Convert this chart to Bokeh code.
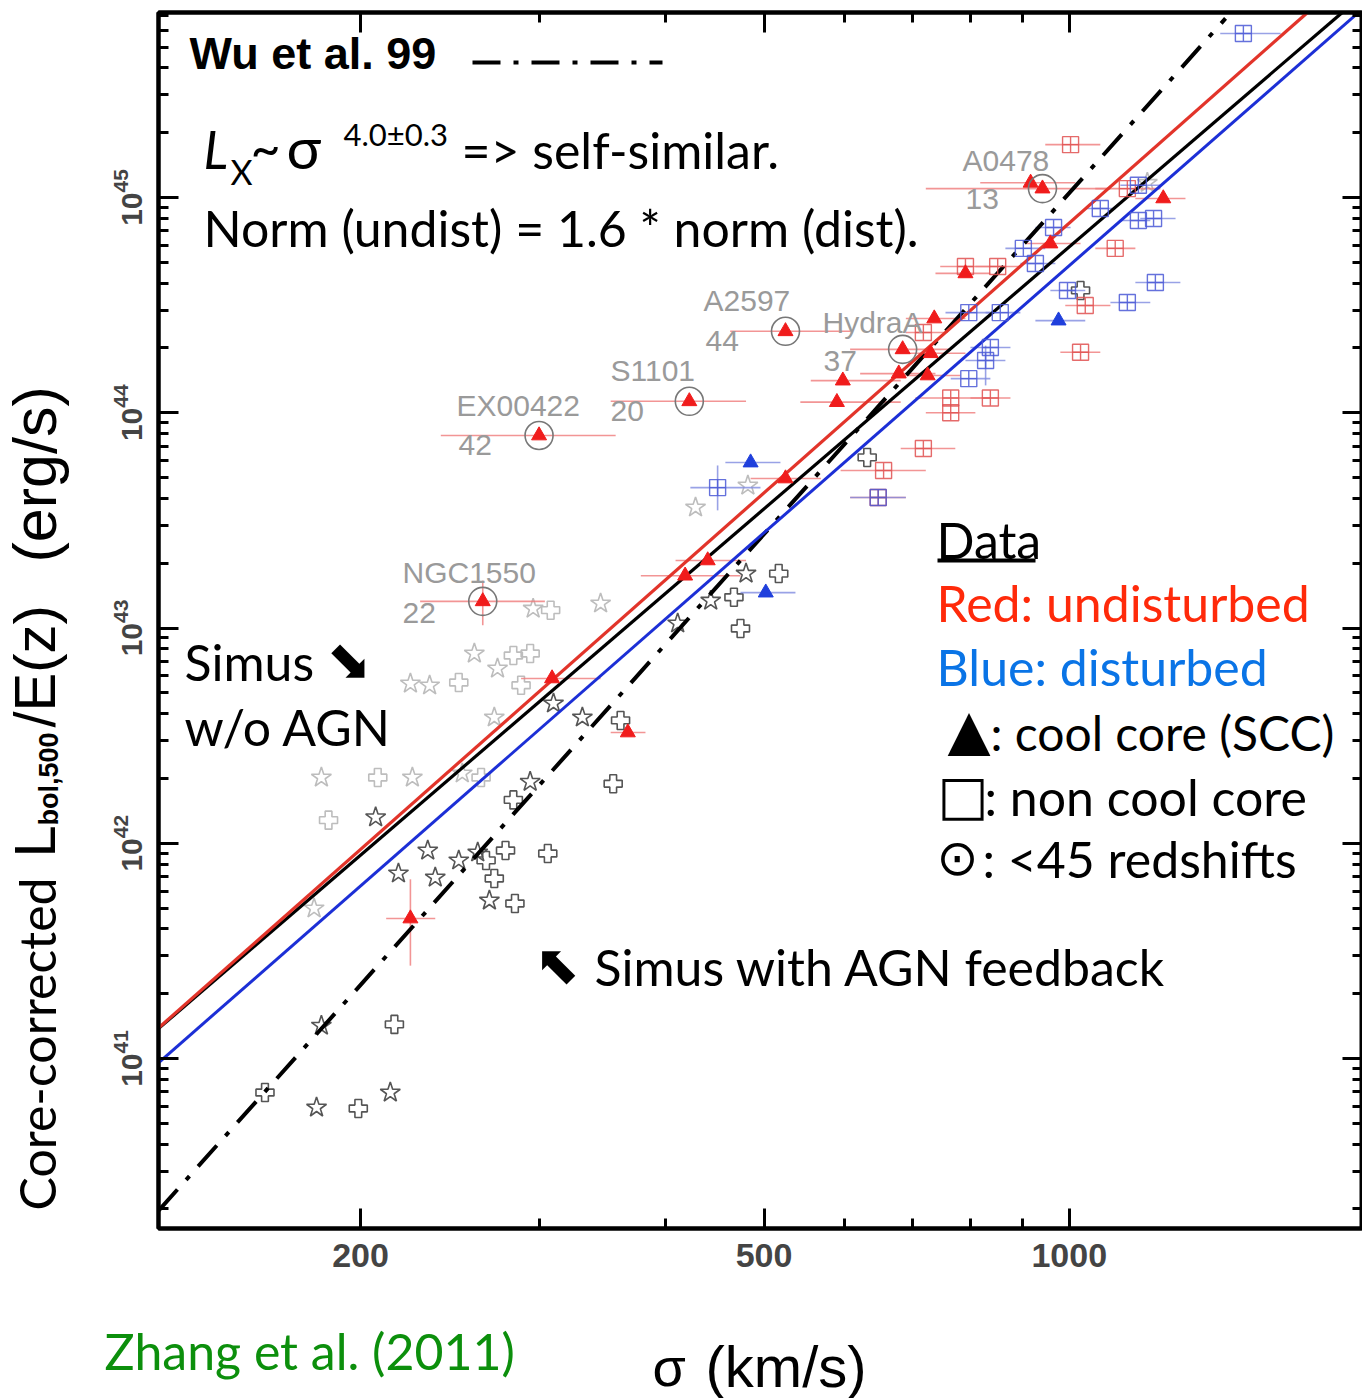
from math import log10, pi
from bokeh.plotting import figure
from bokeh.layouts import row, column
from bokeh.models import (Range1d, FixedTicker, LogAxis, PrintfTickFormatter,
                          LogTickFormatter, Label, BoxAnnotation)
from bokeh.embed import file_html
from bokeh.resources import INLINE

# ---------------- data ----------------
# Undisturbed, cool-core clusters (red triangles): sigma [km/s], L [erg/s], sigma error range
red_cc_sigma = [300, 422, 525, 685, 941, 916, 264, 736, 730, 598, 590, 679, 725, 790,
                958, 1238, 525, 418, 440, 309, 367, 224]
red_cc_L = [7.84e43, 1.13e44, 2.39e44, 1.97e44, 1.10e45, 1.17e45, 1.33e43, 2.74e44,
            1.89e44, 1.41e44, 1.12e44, 1.52e44, 1.49e44, 4.44e44, 6.11e44, 9.9e44,
            4.95e43, 1.75e43, 2.06e43, 5.83e42, 3.27e42, 4.47e41]
red_cc_sig_lo = [240, 353, 463, 608, 722, 817, 229, 690, 674, 556, 543, 622, 682, 738,
                 905, 1162, 485, 378, 409, 288, 353, 212]
red_cc_sig_hi = [357, 480, 608, 764, 1098, 1014, 304, 790, 790, 682, 682, 738, 781, 836,
                 1026, 1302, 569, 474, 480, 345, 382, 237]

# Undisturbed, non-cool-core clusters (red squares)
red_ncc_sigma = [1003, 1141, 1110, 790, 850, 1037, 1026, 764, 764, 836, 718, 656, 718, 648]
red_ncc_L = [1.76e45, 1.10e45, 5.80e44, 4.78e44, 4.78e44, 3.15e44, 1.91e44, 1.17e44,
             1.00e44, 1.17e44, 6.82e43, 5.39e43, 2.36e44, 4.04e43]
red_ncc_sig_lo = [947, 1061, 1061, 746, 808, 991, 980, 705, 722, 799, 682, 595, 690, 608]
red_ncc_sig_hi = [1073, 1230, 1162, 836, 895, 1098, 1073, 836, 808, 875, 772, 722, 755, 690]

# Disturbed, non-cool-core clusters (blue squares)
blue_ncc_sigma = [1485, 1170, 1073, 965, 901, 926, 1170, 1211, 1216, 1141, 996, 796, 855,
                  836, 827, 796, 450, 648]
blue_ncc_L = [5.78e45, 1.14e45, 8.89e44, 7.26e44, 5.80e44, 4.94e44, 7.82e44, 7.99e44,
              4.03e44, 3.25e44, 3.70e44, 2.92e44, 2.92e44, 2.01e44, 1.75e44, 1.44e44,
              4.49e43, 4.04e43]
blue_ncc_sig_lo = [1409, 1123, 1037, 926, 865, 895, 1123, 1175, 1162, 1098, 958, 755, 827,
                   799, 790, 764, 423, 608]
blue_ncc_sig_hi = [1616, 1230, 1110, 1003, 947, 969, 1202, 1273, 1287, 1202, 1037, 836, 895,
                   875, 865, 836, 496, 690]

# Disturbed, cool-core clusters (blue triangles)
blue_cc_sigma = [976, 485, 502]
blue_cc_L = [2.68e44, 5.87e43, 1.46e43]
blue_cc_sig_lo = [926, 458, 474]
blue_cc_sig_hi = [1037, 519, 537]

# vertical error bars
red_verr_sigma = [264, 224]
red_verr_lo = [1.03e43, 2.7e41]
red_verr_hi = [1.66e43, 6.8e41]
blue_verr_sigma = [450, 827]
blue_verr_lo = [3.52e43, 1.34e44]
blue_verr_hi = [5.69e43, 2.05e44]

# clusters with < 45 redshifts (circled, labelled)
named_sigma = [300, 422, 525, 685, 941, 264]
named_L = [7.84e43, 1.13e44, 2.39e44, 1.97e44, 1.10e45, 1.33e43]
named_names = ["EX00422", "S1101", "A2597", "HydraA", "A0478", "NGC1550"]
named_counts = ["42", "20", "44", "37", "13", "22"]

# Simulations with AGN feedback (dark grey)
agn_star_sigma = [181, 214, 183, 207, 233, 237, 218, 250, 261, 268, 294, 310, 331, 480, 411, 443]
agn_star_L = [5.92e40, 6.95e40, 1.42e41, 1.32e42, 9.25e41, 6.93e41, 7.24e41, 8.32e41,
              9.06e41, 5.42e41, 1.93e42, 4.46e42, 3.84e42, 1.79e43, 1.05e43, 1.34e43]
agn_plus_sigma = [199, 216, 161, 271, 278, 306, 284, 283, 266, 355, 361, 474, 467, 517, 632, 1026]
agn_plus_L = [5.86e40, 1.44e41, 6.95e40, 6.86e41, 9.25e41, 8.96e41, 5.25e41, 1.59e42,
              8.32e41, 1.89e42, 3.72e42, 9.95e42, 1.39e43, 1.79e43, 6.2e43, 3.7e44]

# Simulations without AGN (light grey)
noagn_star_sigma = [183, 225, 180, 224, 234, 259, 273, 296, 345, 271, 428, 482, 252, 1194]
noagn_star_L = [2.02e42, 2.02e42, 4.98e41, 5.52e42, 5.41e42, 7.61e42, 6.48e42, 1.23e43,
                1.30e43, 3.84e42, 3.63e43, 4.59e43, 2.11e42, 1.17e45]
noagn_plus_sigma = [186, 208, 250, 283, 294, 308, 288, 263]
noagn_plus_L = [1.28e42, 2.02e42, 5.58e42, 7.45e42, 7.61e42, 1.21e43, 5.42e42, 2.02e42]

# Fitted relations (end points)
fit_red_sigma = [126.5, 1718]
fit_red_L = [1.39e41, 7.24e45]
fit_black_sigma = [126.5, 1859]
fit_black_L = [1.38e41, 7.24e45]
fit_blue_sigma = [126.5, 1929]
fit_blue_L = [9.58e40, 7.24e45]
wu99_sigma = [126.5, 1426]
wu99_L = [1.97e40, 6.79e45]

x_ticks = [200, 500, 1000]
x_minor = [300, 400, 600, 700, 800, 900]
y_ticks = [1e41, 1e42, 1e43, 1e44, 1e45]
y_minor = [k * 10.0 ** n for n in range(40, 46) for k in range(2, 10)]


# ---------------- helpers for annotation placement (page pixels -> data) ----------------
def sx(px):
    return 10 ** (log10(200) + (px - 360) / 1014.0)


def sy(py):
    return 10 ** (45 + (197 - py) / 215.25)


CAL = "Lato, Open Sans, sans-serif"
HEL = "Liberation Sans, Arial, sans-serif"
SYM = "DejaVu Sans, sans-serif"

LEFT_W = 90
F_TOP, F_BOT = 12, 1228
MAIN_H = 1290

p = figure(x_axis_type="log", y_axis_type="log",
           x_range=Range1d(sx(158), sx(1362)), y_range=Range1d(sy(F_BOT), sy(F_TOP)),
           frame_width=1204, frame_height=F_BOT - F_TOP,
           min_border_left=158 - LEFT_W, min_border_right=0, min_border_top=F_TOP,
           min_border_bottom=MAIN_H - F_BOT,
           output_backend="svg", toolbar_location=None,
           background_fill_color="white", border_fill_color="white")
p.xgrid.visible = False
p.ygrid.visible = False
p.outline_line_color = "black"
p.outline_line_width = 4

xt = FixedTicker(ticks=x_ticks, minor_ticks=x_minor)
yt = FixedTicker(ticks=y_ticks, minor_ticks=y_minor)


def style_axis(ax, show_labels):
    ax.axis_line_width = 4
    ax.major_tick_line_width = 3
    ax.minor_tick_line_width = 3
    ax.major_tick_in = 20
    ax.major_tick_out = 0
    ax.minor_tick_in = 10
    ax.minor_tick_out = 0
    if not show_labels:
        ax.major_label_text_font_size = "0px"
        ax.major_label_standoff = 0


xa = p.xaxis[0]
xa.ticker = xt
xa.formatter = PrintfTickFormatter(format="%d")
style_axis(xa, True)
xa.major_label_text_font = HEL
xa.major_label_text_font_style = "bold"
xa.major_label_text_font_size = "34px"
xa.major_label_standoff = 15

ya = p.yaxis[0]
ya.ticker = yt
ya.formatter = LogTickFormatter()
style_axis(ya, True)
ya.major_label_text_font = HEL
ya.major_label_text_font_style = "bold"
ya.major_label_text_font_size = "30px"
ya.major_label_orientation = "vertical"
ya.major_label_standoff = 17

top = LogAxis(ticker=xt, formatter=PrintfTickFormatter(format=""))
style_axis(top, False)
p.add_layout(top, "above")
right = LogAxis(ticker=yt, formatter=PrintfTickFormatter(format=""))
style_axis(right, False)
p.add_layout(right, "right")

# ---------------- simulations ----------------
p.scatter(noagn_star_sigma, noagn_star_L, marker="star", size=21, fill_color=None,
          line_color="#bdbdbd", line_width=1.6)
p.scatter(noagn_plus_sigma, noagn_plus_L, marker="plus", size=18, fill_color=None,
          line_color="#bdbdbd", line_width=1.6)
p.scatter(agn_star_sigma, agn_star_L, marker="star", size=21, fill_color=None,
          line_color="#555555", line_width=1.6)
p.scatter(agn_plus_sigma, agn_plus_L, marker="plus", size=18, fill_color=None,
          line_color="#555555", line_width=1.6)

# ---------------- error bars ----------------
ERR = dict(line_width=1.6, line_alpha=0.8)
p.segment(red_cc_sig_lo, red_cc_L, red_cc_sig_hi, red_cc_L, line_color="#ef7b7b", **ERR)
p.segment(red_ncc_sig_lo, red_ncc_L, red_ncc_sig_hi, red_ncc_L, line_color="#ef7b7b", **ERR)
p.segment(blue_ncc_sig_lo, blue_ncc_L, blue_ncc_sig_hi, blue_ncc_L, line_color="#7f8be0", **ERR)
p.segment(blue_cc_sig_lo, blue_cc_L, blue_cc_sig_hi, blue_cc_L, line_color="#7f8be0", **ERR)
p.segment(red_verr_sigma, red_verr_lo, red_verr_sigma, red_verr_hi, line_color="#ef7b7b", **ERR)
p.segment(blue_verr_sigma, blue_verr_lo, blue_verr_sigma, blue_verr_hi, line_color="#7f8be0", **ERR)

# ---------------- fits ----------------
p.line(wu99_sigma, wu99_L, line_color="black", line_width=4, line_dash="28 13 5 13")
p.line(fit_blue_sigma, fit_blue_L, line_color="#1c2fd6", line_width=3)
p.line(fit_black_sigma, fit_black_L, line_color="black", line_width=3.2)
p.line(fit_red_sigma, fit_red_L, line_color="#e2342a", line_width=3.2)

# ---------------- data points ----------------
p.scatter(red_ncc_sigma, red_ncc_L, marker="square_cross", size=16, fill_color=None,
          line_color="#e05050", line_width=1.4, line_alpha=0.85)
p.scatter(blue_ncc_sigma, blue_ncc_L, marker="square_cross", size=16, fill_color=None,
          line_color="#4a58d6", line_width=1.4, line_alpha=0.85)
p.scatter(red_cc_sigma, red_cc_L, marker="triangle", size=15, fill_color="#f01c1c",
          line_color="#f01c1c")
p.scatter(blue_cc_sigma, blue_cc_L, marker="triangle", size=15, fill_color="#1f3fdc",
          line_color="#1f3fdc")
p.scatter(named_sigma, named_L, marker="circle", size=28, fill_color=None,
          line_color="#777777", line_width=1.6)


# ---------------- texts inside the frame ----------------
def lab(text, px, py, size, color="black", font=CAL, style="normal", align="left"):
    p.add_layout(Label(x=sx(px), y=sy(py), text=text, text_font=font,
                       text_font_size=f"{size}px", text_color=color,
                       text_font_style=style, text_align=align,
                       text_baseline="middle"))


GREY = "#9a9a9a"
name_pos = [(456, 405), (610, 370), (703, 300), (822, 322), (962, 160), (402, 572)]
count_pos = [(458, 444), (610, 410), (705, 340), (823, 360), (965, 198), (402, 612)]
for nm, (a, b) in zip(named_names, name_pos):
    lab(nm, a, b, 30, GREY, HEL)
for nm, (a, b) in zip(named_counts, count_pos):
    lab(nm, a, b, 30, GREY, HEL)

# Wu et al. legend
lab("Wu et al. 99", 189, 53, 45, "black", HEL, "bold")
p.line([sx(472), sx(662)], [sy(62), sy(62)], line_color="black", line_width=4,
       line_dash="28 13 5 13")

# scaling text
lab("L", 203, 148, 52, style="italic")
lab("X", 230, 171, 34)
lab("~", 250, 146, 52)
lab("σ", 286, 146, 58)
lab("4.0±0.3", 343, 133, 31)
lab("=> self-similar.", 461, 149, 50)
lab("Norm (undist) = 1.6 * norm (dist).", 203, 227, 50)

# simulation notes
lab("Simus", 184, 661, 50)
lab("\u2b0a", 326, 660, 54, font=SYM)
lab("w/o AGN", 184, 726, 50)
lab("\u2b09", 534, 964, 54, font=SYM)
lab("Simus with AGN feedback", 594, 966, 50)

# data key
lab("Data", 936, 539, 50)
p.add_layout(BoxAnnotation(left=sx(937), right=sx(1035), top=sy(558), bottom=sy(562),
                           fill_color="black", fill_alpha=1.0, line_alpha=0))
lab("Red: undisturbed", 936, 602, 50, "#ff2a0a")
lab("Blue: disturbed", 936, 666, 50, "#0a74e6")
lab("\u25b2", 947, 729, 56, font=SYM)
lab(": cool core (SCC)", 990, 732, 48)
lab("\u25a1", 937, 795, 54, font=SYM)
lab(": non cool core", 984, 796, 50)
lab("\u2299", 936, 857, 50, font=SYM)
lab(": <45 redshifts", 982, 858, 50)

# ---------------- left panel: y-axis title (frame aligned with the main frame) ----------------
left = figure(width=LEFT_W, frame_height=F_BOT - F_TOP, x_range=Range1d(0, LEFT_W),
              y_range=Range1d(F_BOT, F_TOP), x_axis_type=None, y_axis_type=None,
              min_border_left=0, min_border_right=0, min_border_top=F_TOP,
              min_border_bottom=MAIN_H - F_BOT,
              output_backend="svg", toolbar_location=None,
              outline_line_color=None, background_fill_color="white",
              border_fill_color="white")
left.grid.visible = False


def vlab(text, x, y, size, font, style="normal"):
    left.add_layout(Label(x=x, y=y, text=text, text_font=font, text_font_size=f"{size}px",
                          text_color="black", text_align="left", text_baseline="middle",
                          text_font_style=style, angle=pi / 2))


vlab("Core-corrected", 36, 1210, 50, CAL)
vlab("L", 34, 857, 58, HEL)
vlab("bol,500", 48, 825, 27, HEL, "bold")
vlab("/E(z)", 34, 727, 58, HEL)
vlab("(erg/s)", 34, 562, 61, HEL)

# ---------------- bottom panel: x-axis title and credit ----------------
BOT_W, BOT_H = 1360, 108
bottom = figure(width=BOT_W, height=BOT_H, x_range=Range1d(0, BOT_W),
                y_range=Range1d(MAIN_H + BOT_H, MAIN_H), x_axis_type=None, y_axis_type=None,
                min_border=0, output_backend="svg", toolbar_location=None,
                outline_line_color=None, background_fill_color="white",
                border_fill_color="white")
bottom.grid.visible = False
bottom.add_layout(Label(x=104, y=1350, text="Zhang et al. (2011)", text_font=CAL,
                        text_font_size="50px", text_color="#0c8f0c", text_baseline="middle"))
bottom.add_layout(Label(x=652, y=1366, text="σ", text_font=HEL,
                        text_font_size="54px", text_color="black", text_baseline="middle"))
bottom.add_layout(Label(x=705, y=1366, text="(km/s)", text_font=HEL,
                        text_font_size="58px", text_color="black", text_baseline="middle"))

layout = column(row(left, p), bottom)
open("out.html", "w").write(file_html(layout, INLINE))
